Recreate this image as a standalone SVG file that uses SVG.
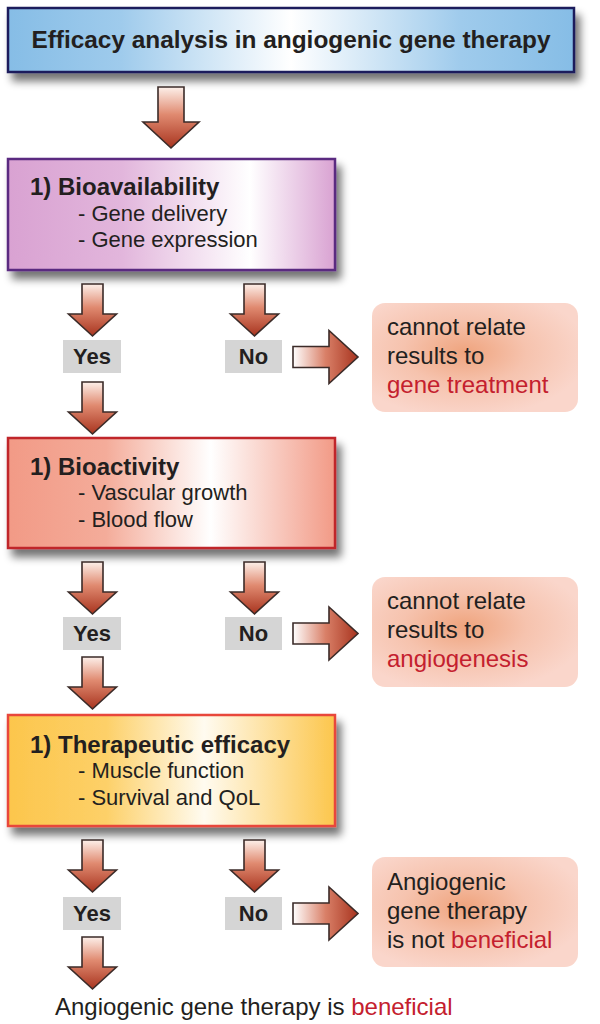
<svg xmlns="http://www.w3.org/2000/svg" width="600" height="1024" viewBox="0 0 600 1024">
<defs>
<style>
text{font-family:"Liberation Sans",Arial,sans-serif;fill:#231f20}
.t{font-size:24px;font-weight:bold}
.s{font-size:22px}
.lb{font-size:22px;font-weight:bold;text-anchor:middle}
.p{font-size:24px}
.r{fill:#c4202e}
.lab{fill:#d5d5d5}
.dn{fill:url(#gDown);stroke:#3b2b28;stroke-width:1.6;stroke-linejoin:miter}
.rt{fill:url(#gRight);stroke:#3b2b28;stroke-width:1.6}
.pk{fill:url(#gPink)}
</style>
<filter id="sh" x="-10%" y="-20%" width="125%" height="150%">
<feGaussianBlur in="SourceAlpha" stdDeviation="4"/>
<feOffset dx="5" dy="8" result="b"/>
<feComponentTransfer><feFuncA type="linear" slope="0.55"/></feComponentTransfer>
<feMerge><feMergeNode/><feMergeNode in="SourceGraphic"/></feMerge>
</filter>
<linearGradient id="gBlue" x1="0" y1="0" x2="1" y2="0">
<stop offset="0" stop-color="#86bde6"/><stop offset="0.2" stop-color="#9fcbec"/><stop offset="0.5" stop-color="#ffffff"/><stop offset="0.8" stop-color="#9fcbec"/><stop offset="1" stop-color="#86bde6"/>
</linearGradient>
<linearGradient id="gPurple" x1="0" y1="0" x2="1" y2="0">
<stop offset="0" stop-color="#d9a2d2"/><stop offset="0.35" stop-color="#e2b6dc"/><stop offset="0.74" stop-color="#ffffff"/><stop offset="1" stop-color="#d9a2d2"/>
</linearGradient>
<linearGradient id="gRed" x1="0" y1="0" x2="1" y2="0">
<stop offset="0" stop-color="#f29a86"/><stop offset="0.3" stop-color="#f4ac9a"/><stop offset="0.62" stop-color="#ffffff"/><stop offset="1" stop-color="#f29a86"/>
</linearGradient>
<linearGradient id="gYellow" x1="0" y1="0" x2="1" y2="0">
<stop offset="0" stop-color="#fcc64c"/><stop offset="0.3" stop-color="#fdd068"/><stop offset="0.6" stop-color="#fffbf0"/><stop offset="1" stop-color="#fcc64c"/>
</linearGradient>
<radialGradient id="gPink" cx="0.45" cy="0.45" r="0.6">
<stop offset="0" stop-color="#efa47e"/><stop offset="0.5" stop-color="#f6c3ae"/><stop offset="1" stop-color="#fad6cb"/>
</radialGradient>
<linearGradient id="gDown" x1="0" y1="0" x2="0" y2="1">
<stop offset="0" stop-color="#fdf0ea"/><stop offset="0.45" stop-color="#e08a70"/><stop offset="1" stop-color="#a8341f"/>
</linearGradient>
<linearGradient id="gRight" x1="0" y1="0" x2="1" y2="0">
<stop offset="0" stop-color="#ffffff"/><stop offset="0.5" stop-color="#d98068"/><stop offset="1" stop-color="#a8341f"/>
</linearGradient>
</defs>

<g id="title">
<rect x="8" y="8" width="566" height="64" fill="url(#gBlue)" stroke="#1f1f5c" stroke-width="2.5" filter="url(#sh)"/>
<text class="t" x="291" y="48" text-anchor="middle" style="font-size:24.4px">Efficacy analysis in angiogenic gene therapy</text>
</g>

<g id="bioavailability">
<rect x="8" y="159" width="327" height="111" fill="url(#gPurple)" stroke="#5a2a80" stroke-width="2.5" filter="url(#sh)"/>
<text class="t" x="30" y="195">1) Bioavailability</text>
<text class="s" x="78" y="221">- Gene delivery</text>
<text class="s" x="78" y="247">- Gene expression</text>
</g>

<g id="bioactivity">
<rect x="8" y="438" width="327" height="110" fill="url(#gRed)" stroke="#c0262c" stroke-width="2.5" filter="url(#sh)"/>
<text class="t" x="30" y="475">1) Bioactivity</text>
<text class="s" x="78" y="500">- Vascular growth</text>
<text class="s" x="78" y="527">- Blood flow</text>
</g>

<g id="efficacy">
<rect x="8" y="715" width="327" height="111" fill="url(#gYellow)" stroke="#e8463a" stroke-width="2.5" filter="url(#sh)"/>
<text class="t" x="30" y="753">1) Therapeutic efficacy</text>
<text class="s" x="78" y="778">- Muscle function</text>
<text class="s" x="78" y="805">- Survival and QoL</text>
</g>

<g id="labels">
<rect class="lab" x="63" y="340" width="58" height="33"/><text class="lb" x="92" y="364">Yes</text>
<rect class="lab" x="225" y="340" width="57" height="33"/><text class="lb" x="253.5" y="364">No</text>
<rect class="lab" x="63" y="617" width="58" height="33"/><text class="lb" x="92" y="641">Yes</text>
<rect class="lab" x="225" y="617" width="57" height="33"/><text class="lb" x="253.5" y="641">No</text>
<rect class="lab" x="63" y="897" width="58" height="33"/><text class="lb" x="92" y="921">Yes</text>
<rect class="lab" x="225" y="897" width="57" height="33"/><text class="lb" x="253.5" y="921">No</text>
</g>

<g id="outcome1">
<rect class="pk" x="372" y="303" width="206" height="109" rx="13"/>
<text class="p" x="387" y="335">cannot relate</text>
<text class="p" x="387" y="364">results to</text>
<text class="p r" x="387" y="393">gene treatment</text>
</g>

<g id="outcome2">
<rect class="pk" x="372" y="577" width="206" height="110" rx="13"/>
<text class="p" x="387" y="609">cannot relate</text>
<text class="p" x="387" y="638">results to</text>
<text class="p r" x="387" y="667">angiogenesis</text>
</g>

<g id="outcome3">
<rect class="pk" x="372" y="857" width="206" height="110" rx="13"/>
<text class="p" x="387" y="890">Angiogenic</text>
<text class="p" x="387" y="919">gene therapy</text>
<text class="p" x="387" y="948">is not <tspan class="r">beneficial</tspan></text>
</g>

<g id="final">
<text class="p" x="55" y="1015">Angiogenic gene therapy is <tspan class="r">beneficial</tspan></text>
</g>

<g id="connectors">
<path class="dn" d="M158,87 h26 v35 h15 l-28,26 l-28,-26 h15 z"/>
<path class="dn" d="M82,284 h21 v30 h13.5 l-24,22 l-24,-22 h13.5 z"/>
<path class="dn" d="M244,284 h21 v30 h13.5 l-24,22 l-24,-22 h13.5 z"/>
<path class="rt" d="M293,346.5 h36 v-16 l29,26.5 l-29,26.5 v-16 h-36 z"/>
<path class="dn" d="M82,382 h21 v30 h13.5 l-24,22 l-24,-22 h13.5 z"/>
<path class="dn" d="M82,562 h21 v30 h13.5 l-24,22 l-24,-22 h13.5 z"/>
<path class="dn" d="M244,562 h21 v30 h13.5 l-24,22 l-24,-22 h13.5 z"/>
<path class="rt" d="M293,623 h36 v-16 l29,26.5 l-29,26.5 v-16 h-36 z"/>
<path class="dn" d="M82,657 h21 v30 h13.5 l-24,22 l-24,-22 h13.5 z"/>
<path class="dn" d="M82,840 h21 v30 h13.5 l-24,22 l-24,-22 h13.5 z"/>
<path class="dn" d="M244,840 h21 v30 h13.5 l-24,22 l-24,-22 h13.5 z"/>
<path class="rt" d="M293,903 h36 v-16 l29,26.5 l-29,26.5 v-16 h-36 z"/>
<path class="dn" d="M82,937 h21 v30 h13.5 l-24,22 l-24,-22 h13.5 z"/>
</g>
</svg>
